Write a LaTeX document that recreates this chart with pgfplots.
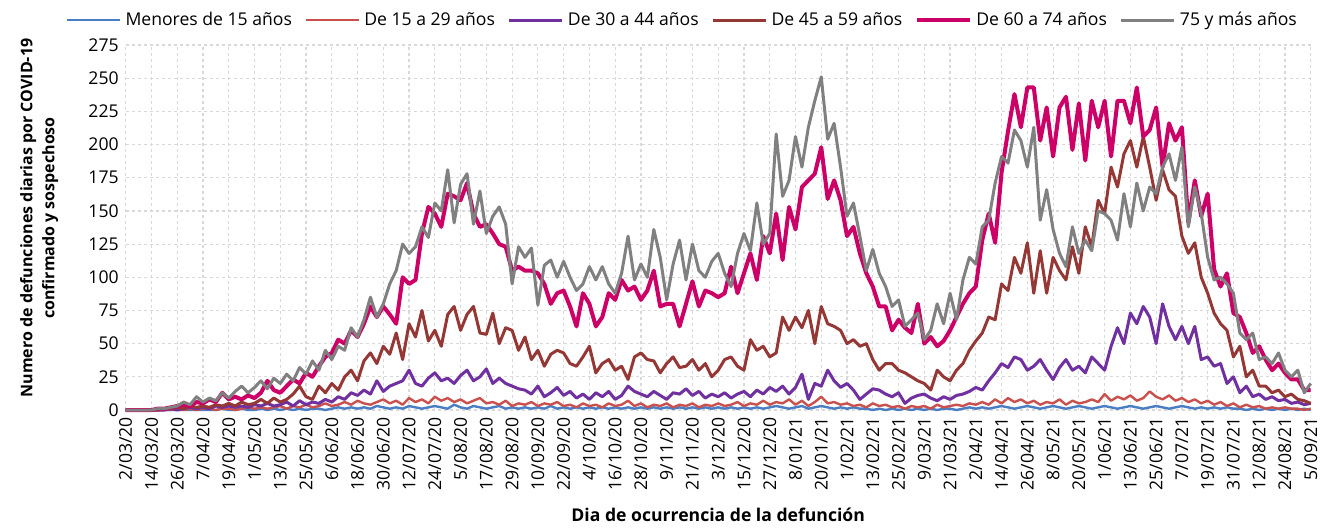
\documentclass[border=0pt]{standalone}
\usepackage{fontspec}
\setmainfont{Open Sans}
\usepackage{pgfplots}
\usepackage{pgfplotstable}
\pgfplotsset{compat=1.18}
\definecolor{cBlue}{HTML}{4A7EC4}
\definecolor{cRed}{HTML}{C9504D}
\definecolor{cPurple}{HTML}{7030A0}
\definecolor{cBrown}{HTML}{953735}
\definecolor{cPink}{HTML}{CC0066}
\definecolor{cGray}{HTML}{808080}
\definecolor{cGrid}{HTML}{D9D9D9}

\pgfplotstableread{
d B R V M P G
0 0 0 0 0 0 0
3 0 0 0 0 0 0
6 0 0 0 0 0 0
9 0 0 0 0 0 0
12 0 0 0 0 0 0
15 0 0 0 0 1 1
18 0 0 0 1 1 1
21 0 0 1 1 2 2
24 0 1 0 2 3 3
27 0 0 1 1 4 6
30 0 1 2 3 3 4
33 0 0 1 2 6 10
36 0 1 2 3 5 6
39 0 1 1 2 8 9
42 0 0 3 4 6 7
45 1 1 2 3 13 13
48 0 1 3 5 8 9
51 0 0 2 3 10 14
54 1 1 3 6 8 18
57 0 2 2 4 11 13
60 0 1 4 5 9 17
63 1 2 3 8 13 22
66 0 1 5 5 22 16
69 1 2 3 9 15 24
72 0 3 4 6 13 20
75 1 1 6 8 18 27
78 0 3 3 12 23 22
81 1 2 7 18 20 32
84 0 4 4 10 28 27
87 1 2 6 8 25 37
90 1 3 5 18 33 30
93 0 5 8 13 40 45
96 1 3 6 20 43 38
99 2 4 10 15 53 48
102 1 6 8 25 50 45
105 2 4 13 30 60 62
108 1 7 11 22 55 55
111 2 5 15 37 65 68
114 1 4 12 43 78 85
117 3 6 22 35 70 70
120 2 8 14 48 78 80
123 1 5 18 42 72 95
126 2 7 20 58 65 105
129 1 4 22 38 100 125
132 3 9 30 65 95 118
135 2 6 20 55 98 123
138 1 8 18 75 133 138
141 2 5 24 52 153 130
144 3 10 28 60 148 156
147 2 7 22 48 138 150
150 1 9 24 72 163 181
153 4 6 20 78 161 141
156 2 8 26 60 158 170
159 1 5 30 72 171 178
162 3 7 22 78 148 140
165 2 9 25 58 138 165
168 1 5 31 57 140 133
171 2 6 20 73 133 146
174 3 4 24 50 125 153
177 1 7 20 62 123 140
180 2 3 18 60 105 95
183 1 5 16 45 108 123
186 2 4 15 55 105 115
189 1 6 12 38 105 122
192 2 3 18 45 103 79
195 1 5 10 33 95 109
198 3 4 13 42 80 113
201 1 6 17 45 88 100
204 2 3 11 43 90 112
207 1 4 14 35 78 100
210 2 2 9 33 63 90
213 1 5 12 40 88 95
216 2 3 8 48 80 108
219 1 4 13 28 63 98
222 2 2 10 35 70 108
225 1 5 14 38 88 95
228 2 3 8 30 83 88
231 1 4 11 33 98 103
234 2 7 18 23 90 131
237 1 3 14 40 93 98
240 2 5 12 43 83 110
243 1 2 10 38 90 100
246 2 4 14 37 105 136
249 1 3 11 28 78 115
252 2 5 8 35 80 83
255 1 2 13 40 80 110
258 2 4 12 32 63 128
261 1 3 16 33 80 98
264 2 5 11 38 97 125
267 1 2 14 30 78 105
270 2 4 9 35 90 100
273 1 3 12 25 88 112
276 2 5 10 30 85 118
279 1 3 13 38 88 103
282 2 4 9 40 108 93
285 1 6 12 33 88 118
288 2 3 14 30 103 133
291 1 5 10 53 118 120
294 2 4 15 45 98 156
297 1 7 12 48 131 125
300 2 4 17 40 118 133
303 3 6 14 43 148 208
306 2 5 18 70 113 161
309 1 8 12 60 153 173
312 2 4 17 70 136 206
315 3 7 27 62 168 183
318 1 3 8 75 173 213
321 2 6 20 50 178 233
324 3 10 18 78 198 251
327 2 5 30 65 159 204
330 1 6 22 63 173 216
333 2 4 17 60 158 183
336 1 5 20 50 131 146
339 2 3 15 53 138 156
342 1 4 8 48 118 131
345 1 2 12 50 103 105
348 0 5 16 38 93 121
351 1 3 15 30 78 103
354 0 4 12 35 78 93
357 1 2 10 35 60 78
360 0 3 13 30 68 83
363 1 1 5 28 62 63
366 0 3 9 25 58 68
369 1 2 11 22 80 73
372 0 3 12 20 50 53
375 1 1 9 15 55 60
378 0 4 7 30 48 80
381 1 2 10 25 52 65
384 1 3 8 22 60 88
387 0 4 11 30 70 68
390 1 3 12 35 80 98
393 2 5 14 45 88 115
396 1 4 17 52 93 110
399 2 6 15 58 128 138
402 1 4 22 70 148 143
405 2 8 28 68 126 171
408 3 5 35 95 179 191
411 2 9 32 90 210 186
414 1 6 40 115 238 211
417 2 8 38 103 213 203
420 3 5 30 126 243 183
423 2 7 33 88 243 213
426 1 4 38 120 203 143
429 2 6 30 88 228 166
432 3 5 23 115 191 136
435 2 8 32 105 228 118
438 1 4 38 98 236 108
441 2 7 30 123 196 138
444 3 5 33 103 231 118
447 2 6 28 138 188 128
450 1 8 40 123 233 120
453 2 6 35 158 213 150
456 3 12 30 148 233 148
459 2 7 48 183 191 143
462 1 10 62 168 233 128
465 2 8 50 193 233 163
468 3 11 73 203 216 138
471 2 7 65 183 243 171
474 1 9 78 206 206 150
477 2 14 70 183 211 168
480 3 10 50 158 228 163
483 2 8 80 181 183 183
486 1 11 63 166 216 193
489 2 7 53 161 203 173
492 3 9 63 131 213 198
495 2 6 50 118 141 138
498 1 8 63 126 173 168
501 2 5 38 100 146 148
504 1 7 40 88 163 115
507 2 4 33 73 106 98
510 1 6 35 65 93 100
513 2 3 20 60 103 95
516 1 5 25 40 73 88
519 1 2 13 48 70 58
522 0 4 18 25 58 53
525 1 2 10 30 43 58
528 0 3 12 18 48 38
531 1 1 8 18 38 40
534 0 2 10 13 30 35
537 1 1 7 15 35 43
540 0 2 8 10 28 30
543 1 1 5 12 23 25
546 0 1 6 8 23 30
549 1 0 4 7 15 13
552 0 1 5 5 15 20
}\data

\begin{document}
\begin{tikzpicture}
\begin{axis}[
  scale only axis, width=592.5pt, height=182.5pt,
  xmin=0, xmax=552, ymin=0, ymax=275,
  clip=false,
  xtick={0,12,...,552},
  xticklabels={2/03/20,14/03/20,26/03/20,7/04/20,19/04/20,1/05/20,13/05/20,25/05/20,6/06/20,18/06/20,30/06/20,12/07/20,24/07/20,5/08/20,17/08/20,29/08/20,10/09/20,22/09/20,4/10/20,16/10/20,28/10/20,9/11/20,21/11/20,3/12/20,15/12/20,27/12/20,8/01/21,20/01/21,1/02/21,13/02/21,25/02/21,9/03/21,21/03/21,2/04/21,14/04/21,26/04/21,8/05/21,20/05/21,1/06/21,13/06/21,25/06/21,7/07/21,19/07/21,31/07/21,12/08/21,24/08/21,5/09/21},
  ytick={0,25,...,275},
  axis line style={draw=none},
  major tick length=0pt,
  grid=major,
  major grid style={cGrid, dash pattern=on 1.5pt off 1.5pt, line width=0.6pt},
  xticklabel style={rotate=90, anchor=east, font=\fontsize{8.8}{10}\selectfont},
  yticklabel style={font=\fontsize{8.8}{10}\selectfont},
  /pgf/number format/assume math mode=true,
  xlabel={Dia de ocurrencia de la defunción},
  xlabel style={at={(axis description cs:0.5,-0.287)}, anchor=center, font=\bfseries\fontsize{8.8}{10}\selectfont},
  ylabel={Numero de defunciones diarias por COVID-19\\confirmado y sospechoso},
  ylabel style={at={(axis description cs:-0.073,0.526)}, anchor=center, align=center, font=\bfseries\fontsize{8}{11}\selectfont},
  legend columns=6,
  legend style={draw=none, fill=none, at={(axis description cs:0.4707,1.068)}, anchor=center,
    font=\fontsize{8.8}{10}\selectfont,
    /tikz/every even column/.append style={column sep=4.5pt}},
  legend image code/.code={\draw[#1] (0pt,0pt) -- (26.5pt,0pt);},
  every axis plot/.append style={line join=round},
]
\addplot[cBlue, line width=1.2pt] table[x=d, y=B] {\data};
\addlegendentry{Menores de 15 años}
\addplot[cRed, line width=1.2pt] table[x=d, y=R] {\data};
\addlegendentry{De 15 a 29 años}
\addplot[cPurple, line width=1.5pt] table[x=d, y=V] {\data};
\addlegendentry{De 30 a 44 años}
\addplot[cBrown, line width=1.5pt] table[x=d, y=M] {\data};
\addlegendentry{De 45 a 59 años}
\addplot[cPink, line width=2pt] table[x=d, y=P] {\data};
\addlegendentry{De 60 a 74 años}
\addplot[cGray, line width=1.5pt] table[x=d, y=G] {\data};
\addlegendentry{75 y más años}
\end{axis}
\pgfresetboundingbox
\path[use as bounding box] (-62.85pt,-58.5pt) rectangle (597.15pt,205pt);
\end{tikzpicture}
\end{document}
